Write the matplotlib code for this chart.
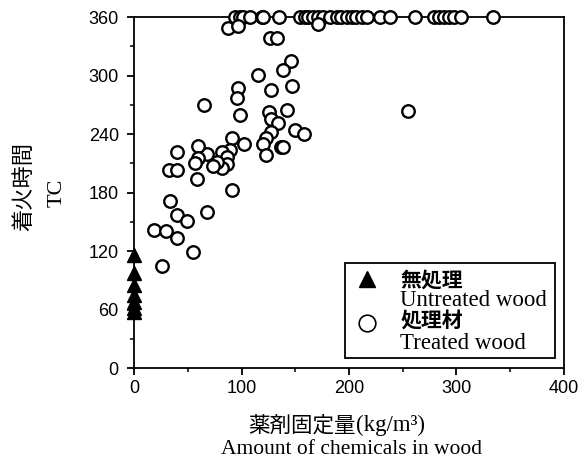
import matplotlib.pyplot as plt
from matplotlib.patches import Rectangle

# untreated wood (x = 0)
untreated_x = [0, 0, 0, 0, 0, 0, 0]
untreated_y = [116, 97, 85, 75, 68, 62, 57]

# treated wood: specimens that reached the 360 s limit
top_x = [94, 98.6, 101.7, 108, 118.8, 120, 135, 154.4, 159, 162, 166.7, 171.4, 176,
         182, 188.6, 193, 198, 202.5, 207, 211.8, 216.4, 228.8, 238, 261, 279.5,
         284, 288.8, 293.5, 298, 304, 334]
top_y = [360] * len(top_x)

# treated wood: other specimens
treated_x = [87.7, 97, 171.4, 126.5, 133.3,
             146, 139, 115.7, 97, 95.5, 127, 146.7, 65, 99, 126, 142.6, 127, 134,
             127, 150, 158, 123, 119.7, 136.7, 139, 122.8, 102.6, 90.9, 89.3, 81.6,
             86.2, 86.8, 81.6, 76.9, 73.2, 68.2, 59.2, 59.8, 56.7, 40.3, 32.8, 40.3,
             58.3, 91.5, 33.5, 40.3, 49, 68.2, 18.9, 29.5, 39.7, 54.6, 26.3, 255]
treated_y = [349, 351, 353, 338, 338,
             315, 306, 300.5, 287.5, 277, 285, 289, 270, 260, 263, 264.6, 255, 251,
             242, 244, 240, 235.6, 230, 227, 227, 218.5, 229.7, 235.6, 223.6, 222,
             216.7, 208.9, 204.8, 211.6, 207.5, 219.5, 227.7, 215, 210, 222, 203, 203,
             193.8, 182.6, 171, 157, 151, 159.7, 142, 140.5, 133, 119.3, 104.6, 264]

xticks = [0, 100, 200, 300, 400]
yticks = [0, 60, 120, 180, 240, 300, 360]

jp = ["Noto Sans CJK JP", "DejaVu Sans"]
serif = "Liberation Serif"
num = "Liberation Sans"

fig = plt.figure(figsize=(5.88, 4.65), dpi=100)
ax = fig.add_axes([0.228, 0.2086, 0.731, 0.7548])

ax.plot(top_x + treated_x, top_y + treated_y, "o", ms=9, mfc="white", mec="black",
        mew=1.7, clip_on=False, zorder=3)
ax.plot(untreated_x, untreated_y, "^", ms=10, color="black", clip_on=False, zorder=4)

ax.set_xlim(0, 400)
ax.set_ylim(0, 360)
ax.set_xticks(xticks)
ax.set_yticks(yticks)
ax.set_xticks([50, 150, 250, 350], minor=True)
ax.set_yticks([30, 90, 150, 210, 270, 330], minor=True)
ax.tick_params(which="major", direction="out", length=5, width=1.3, labelsize=13)
ax.tick_params(axis="y", pad=6)
ax.tick_params(which="minor", direction="out", length=3, width=1.1)
for lab in ax.get_xticklabels() + ax.get_yticklabels():
    lab.set_fontfamily(num)
for s in ax.spines.values():
    s.set_linewidth(1.3)

# axis labels (two lines, mixed fonts)
fig.text(0.605, 0.085, "薬剤固定量", family=jp, fontsize=15.5, ha="right", va="center")
fig.text(0.605, 0.085, "(kg/m³)", family=serif, fontsize=16.5, ha="left", va="center")
fig.text(0.597, 0.033, "Amount of chemicals in wood", family=serif, fontsize=15.5,
         ha="center", va="center")
fig.text(0.041, 0.60, "着火時間", family=jp, fontsize=16, rotation=90,
         ha="center", va="center")
fig.text(0.097, 0.585, "TC", family=serif, fontsize=16, rotation=90,
         ha="center", va="center")

# legend drawn by hand
ax.add_patch(Rectangle((0.4907, 0.0285), 0.488, 0.2715, transform=ax.transAxes,
                       fill=False, lw=1.3, ec="black", zorder=5))
ax.plot([0.542], [0.254], "^", ms=11, color="black", transform=ax.transAxes, zorder=6)
ax.plot([0.542], [0.127], "o", ms=12, mfc="white", mec="black", mew=1.2,
        transform=ax.transAxes, zorder=6)
ax.text(0.619, 0.251, "無処理", family=jp, fontweight="bold", fontsize=15,
        transform=ax.transAxes, va="center", zorder=6)
ax.text(0.619, 0.192, "Untreated wood", family=serif, fontsize=16.5,
        transform=ax.transAxes, va="center", zorder=6)
ax.text(0.619, 0.135, "処理材", family=jp, fontweight="bold", fontsize=15,
        transform=ax.transAxes, va="center", zorder=6)
ax.text(0.619, 0.070, "Treated wood", family=serif, fontsize=16.5,
        transform=ax.transAxes, va="center", zorder=6)

fig.savefig("out.png", dpi=100)
